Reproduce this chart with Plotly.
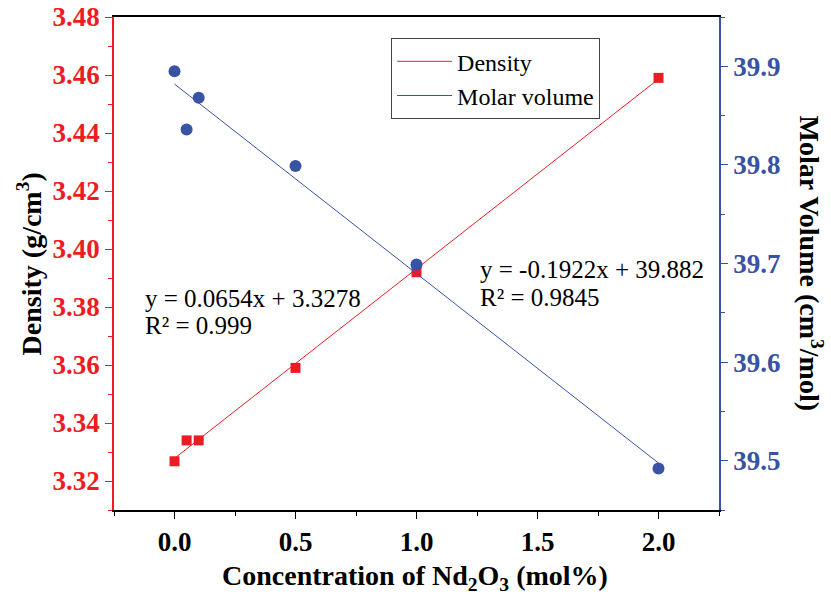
import plotly.graph_objects as go

conc = [0, 0.05, 0.1, 0.5, 1.0, 2.0]
density = [3.3268, 3.334, 3.334, 3.359, 3.392, 3.459]
molar_volume = [39.895, 39.836, 39.868, 39.799, 39.699, 39.492]
fit_x = [0, 2.0]
dens_slope, dens_icpt = 0.0654, 3.3278
mv_slope, mv_icpt = -0.1922, 39.882

RED = "#ED1C24"
BLUE = "#3953A4"
FONT = "Times New Roman, Liberation Serif, serif"

fig = go.Figure()
fig.add_trace(go.Scatter(x=fit_x, y=[dens_icpt + dens_slope * v for v in fit_x], mode="lines",
                         line=dict(color=RED, width=1), name="Density"))
fig.add_trace(go.Scatter(x=fit_x, y=[mv_icpt + mv_slope * v for v in fit_x], mode="lines",
                         line=dict(color=BLUE, width=1), name="Molar volume", yaxis="y2"))
fig.add_trace(go.Scatter(x=conc, y=density, mode="markers", showlegend=False,
                         marker=dict(symbol="square", size=10, color=RED)))
fig.add_trace(go.Scatter(x=conc, y=molar_volume, mode="markers", showlegend=False, yaxis="y2",
                         marker=dict(symbol="circle", size=12, color=BLUE)))

fig.update_layout(
    width=831, height=595,
    margin=dict(l=114, r=112, t=17, b=85, autoexpand=False),
    plot_bgcolor="white", paper_bgcolor="white",
    font=dict(family=FONT, color="black"),
    xaxis=dict(range=[-0.25, 2.25], tickvals=[0, 0.5, 1.0, 1.5, 2.0],
               ticktext=["0.0", "0.5", "1.0", "1.5", "2.0"], automargin=False,
               showgrid=False, zeroline=False, showline=True, linecolor="black", linewidth=1.5,
               mirror=True, ticks="outside", ticklen=7, tickcolor="black",
               minor=dict(ticks="outside", ticklen=4, dtick=0.25, tick0=0, tickcolor="black"),
               tickfont=dict(family=FONT, size=27, color="black", weight="bold")),
    yaxis=dict(range=[3.31, 3.48], dtick=0.02, tick0=3.32, tickformat=".2f", automargin=False,
               showgrid=False, zeroline=False, showline=True, linecolor=RED, linewidth=1.5,
               ticks="outside", ticklen=7, tickcolor=RED,
               minor=dict(ticks="outside", ticklen=4, dtick=0.01, tick0=3.31, tickcolor=RED),
               tickfont=dict(family=FONT, size=27, color=RED, weight="bold")),
    yaxis2=dict(range=[39.45, 39.95], dtick=0.1, tick0=39.5, tickformat=".1f", automargin=False,
                overlaying="y", side="right",
                showgrid=False, zeroline=False, showline=True, linecolor=BLUE, linewidth=1.5,
                ticks="outside", ticklen=7, tickcolor=BLUE,
                minor=dict(ticks="outside", ticklen=4, dtick=0.05, tick0=39.45, tickcolor=BLUE),
                tickfont=dict(family=FONT, size=27, color=BLUE, weight="bold")),
    legend=dict(x=0.458, y=0.957, xanchor="left", yanchor="top", itemwidth=55,
                bgcolor="white", bordercolor="#444", borderwidth=1,
                font=dict(family=FONT, size=24, color="black"), tracegroupgap=0),
    showlegend=True,
)

ann = [
    dict(text="y = 0.0654x + 3.3278", x=-0.13, y=3.383, xref="x", yref="y", xanchor="left",
         yanchor="middle", showarrow=False, font=dict(family=FONT, size=25, color="black")),
    dict(text="R² = 0.999", x=-0.13, y=3.3737, xref="x", yref="y", xanchor="left",
         yanchor="middle", showarrow=False, font=dict(family=FONT, size=25, color="black")),
    dict(text="y = -0.1922x + 39.882", x=1.255, y=3.393, xref="x", yref="y", xanchor="left",
         yanchor="middle", showarrow=False, font=dict(family=FONT, size=25, color="black")),
    dict(text="R² = 0.9845", x=1.255, y=3.3833, xref="x", yref="y", xanchor="left",
         yanchor="middle", showarrow=False, font=dict(family=FONT, size=25, color="black")),
    dict(text="<b>Density (g/cm<sup>3</sup>)</b>", x=-0.139, y=0.5, xref="paper", yref="paper",
         textangle=-90, showarrow=False, xanchor="center", yanchor="middle",
         font=dict(family=FONT, size=28, color="black")),
    dict(text="<b>Molar Volume (cm<sup>3</sup>/mol)</b>", x=1.152, y=0.5, xref="paper", yref="paper",
         textangle=90, showarrow=False, xanchor="center", yanchor="middle",
         font=dict(family=FONT, size=28, color="black")),
    dict(text="<b>Concentration of Nd<sub>2</sub>O<sub>3</sub> (mol%)</b>", x=0.497, y=-0.136,
         xref="paper", yref="paper", showarrow=False, xanchor="center", yanchor="middle",
         font=dict(family=FONT, size=28, color="black")),
]
fig.update_layout(annotations=ann)

fig.write_html("out.html", post_script="document.body.style.margin='0';",
               config={"displayModeBar": False})
